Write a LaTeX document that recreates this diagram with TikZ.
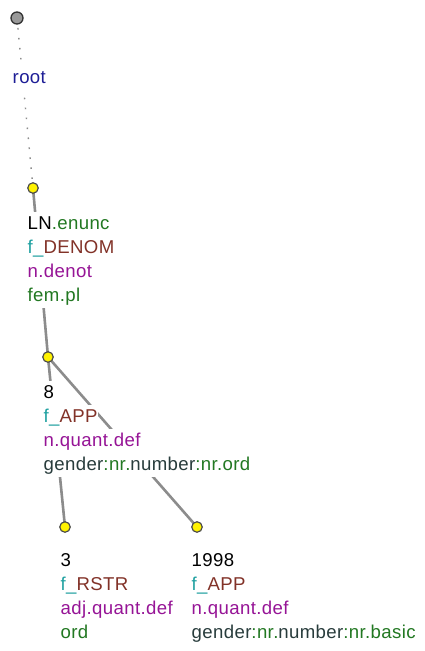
\documentclass[tikz,border=0pt]{standalone}
\usepackage{fontspec}
\setmainfont[LetterSpace=2]{Liberation Sans}
\definecolor{rootblue}{RGB}{30,30,150}
\definecolor{lgreen}{RGB}{34,120,34}
\definecolor{lteal}{RGB}{30,160,160}
\definecolor{lbrown}{RGB}{130,50,40}
\definecolor{lpurple}{RGB}{150,20,150}
\definecolor{lslate}{RGB}{40,60,60}
\definecolor{edgegray}{RGB}{140,140,140}
\tikzset{
  lbl/.style={anchor=base west, fill=white, inner xsep=0.5pt, inner ysep=1.5pt, text height=15.5pt, text depth=5pt, font=\fontsize{18.6}{22}\selectfont},
  topnode/.style={circle, draw=black!80, line width=1.3pt, fill=black!40, minimum size=12pt, inner sep=0pt},
  dnode/.style={circle, draw=black!70, line width=1.2pt, fill=yellow, minimum size=10.5pt, inner sep=0pt},
  edge/.style={draw=edgegray, line width=2.6pt},
  dotedge/.style={draw=edgegray, line width=1.4pt, dash pattern=on 1.6pt off 8.4pt},
}
\begin{document}
\begin{tikzpicture}[x=1pt,y=-1pt]
\useasboundingbox (0,0) rectangle (424,651);
% node positions
\coordinate (p0) at (17,18);
\coordinate (p1) at (33,188);
\coordinate (p2) at (48,357);
\coordinate (p3) at (65,527);
\coordinate (p4) at (197,527);
% edges
\draw[dotedge] (p0) -- (p1);
\draw[edge] (p1) -- (p2);
\draw[edge] (p2) -- (p3);
\draw[edge] (p2) -- (p4);
% labels
\node[lbl, text=rootblue] (r) at (12,83) {root};
\node[lbl] (a1) at (27,229) {LN\textcolor{lgreen}{.enunc}};
\node[lbl] (a2) at (27,253) {\textcolor{lteal}{f\_}\textcolor{lbrown}{DENOM}};
\node[lbl, text=lpurple] (a3) at (27,277) {n.denot};
\node[lbl, text=lgreen] (a4) at (27,301) {fem.pl};
\node[lbl] (b1) at (43,398) {8};
\node[lbl] (b2) at (43,422) {\textcolor{lteal}{f\_}\textcolor{lbrown}{APP}};
\node[lbl, text=lpurple] (b3) at (43,446) {n.quant.def};
\node[lbl] (b4) at (43,470) {\textcolor{lslate}{gender}\textcolor{lgreen}{:nr.}\textcolor{lslate}{number}\textcolor{lgreen}{:nr.ord}};
\node[lbl] (c1) at (60,566) {3};
\node[lbl] (c2) at (60,590) {\textcolor{lteal}{f\_}\textcolor{lbrown}{RSTR}};
\node[lbl, text=lpurple] (c3) at (60,614) {adj.quant.def};
\node[lbl, text=lgreen] (c4) at (60,638) {ord};
\node[lbl] (d1) at (191,566) {1998};
\node[lbl] (d2) at (191,590) {\textcolor{lteal}{f\_}\textcolor{lbrown}{APP}};
\node[lbl, text=lpurple] (d3) at (191,614) {n.quant.def};
\node[lbl] (d4) at (191,638) {\textcolor{lslate}{gender}\textcolor{lgreen}{:nr.}\textcolor{lslate}{number}\textcolor{lgreen}{:nr.basic}};
% nodes
\node[topnode] (n0) at (p0) {};
\node[dnode] (n1) at (p1) {};
\node[dnode] (n2) at (p2) {};
\node[dnode] (n3) at (p3) {};
\node[dnode] (n4) at (p4) {};
\end{tikzpicture}
\end{document}
